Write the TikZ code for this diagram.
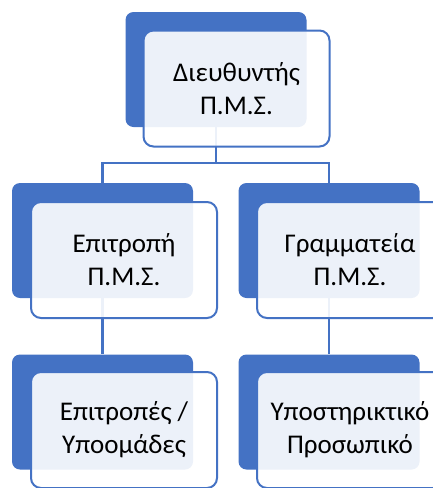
\documentclass[tikz,border=0pt]{standalone}
\usepackage{fontspec}
\setmainfont{Carlito}
\definecolor{orgblue}{HTML}{4472C4}
\begin{document}
\begin{tikzpicture}[x=1pt, y=-1pt]
      \tikzstyle{back}=[rectangle, rounded corners=8pt, fill=orgblue,
        minimum width=181pt, minimum height=115pt, inner sep=0pt]
      \tikzstyle{front}=[rectangle, rounded corners=10pt, draw=orgblue,
        line width=2pt, fill=white, fill opacity=0.9, text opacity=1,
        minimum width=186pt, minimum height=116pt, align=center,
        font=\fontsize{27}{33}\selectfont]
      \tikzstyle{conn}=[orgblue, line width=2.5pt]
      \clip (0,0) rectangle (433,488);

      \path (216,69.5) node[back] (bdir) {};
      \foreach \n/\x in {epi/102.5, gram/329}
      {
        \path (\x,240.5) node[back] (b\n) {};
      }
      \foreach \n/\x in {ypo/102.5, pros/329}
      {
        \path (\x,412) node[back] (b\n) {};
      }

      \coordinate (split) at (216,163);
      \draw [conn]
        (bdir.south) -- (split) -| (bepi.north)
        (split) -| (bgram.north)
        (bepi.south) -- (bypo.north)
        (bgram.south) -- (bpros.north);

      \path (236.5,88.5) node[front] (dir) {Διευθυντής\\Π.Μ.Σ.};
      \path (124,260) node[front] (epi) {Επιτροπή\\Π.Μ.Σ.};
      \path (350,260) node[front] (gram) {Γραμματεία\\Π.Μ.Σ.};
      \path (124,430) node[front] (ypo) {Επιτροπές /\\Υποομάδες};
      \path (350,430) node[front] (pros) {Υποστηρικτικό\\Προσωπικό};
    \end{tikzpicture}
\end{document}
